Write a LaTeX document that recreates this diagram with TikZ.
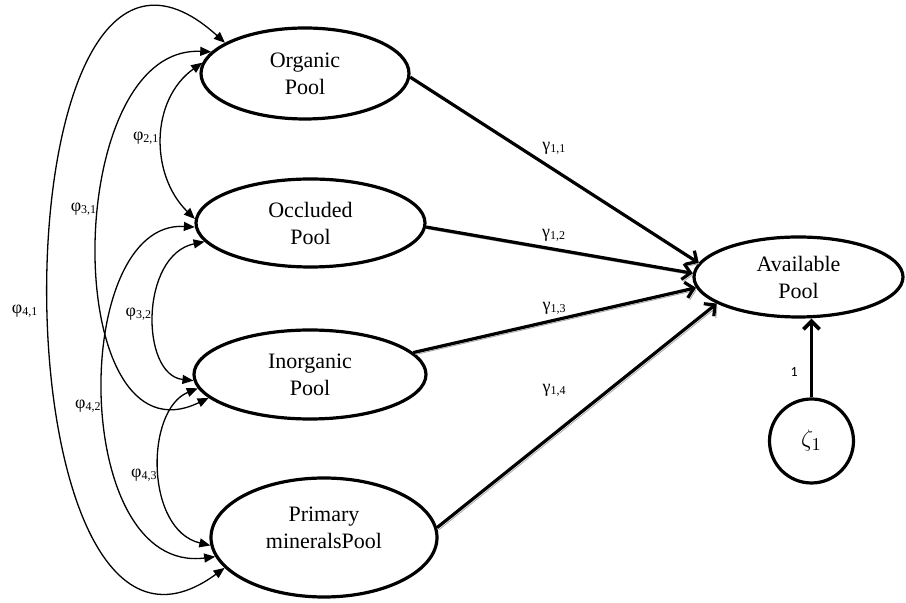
\documentclass[tikz,border=0pt]{standalone}
\usepackage{fontspec}
\setmainfont{Liberation Serif}
\newfontfamily\calibri{Carlito}
\usetikzlibrary{shapes.geometric,arrows.meta}

\tikzset{
pool/.style={draw, ellipse, line width=1.6pt, inner sep=0pt, align=center, font=\fontsize{11}{13.5}\selectfont},
gam/.style={line width=1.6pt, -{Straight Barb[length=4pt,width=8pt]}, preaction={draw=black!35, transform canvas={shift={(1pt,-1pt)}}}},
fix/.style={line width=1.9pt, -{Straight Barb[length=4pt,width=8pt]}},
phi/.style={line width=0.65pt, {Triangle[length=5.5pt,width=4.5pt]}-{Triangle[length=5.5pt,width=4.5pt]}},
coef/.style={font=\fontsize{9}{10}\selectfont, inner sep=1pt}
}

\begin{document}
\begin{tikzpicture}[x=0.5pt,y=-0.5pt]
\useasboundingbox (0,0) rectangle (906,603);

\node [pool, minimum width=104pt, minimum height=45.5pt] (org) at (305,73.5) {Organic\\Pool};
\node [pool, minimum width=114.5pt, minimum height=44pt] (occ) at (310.5,223) {Occluded\\Pool};
\node [pool, minimum width=116pt, minimum height=44.5pt] (ino) at (310,374.5) {Inorganic\\Pool};
\node [pool, minimum width=113pt, minimum height=59.5pt, text depth=10pt] (pri) at (324,537.5) {Primary\\mineralsPool};
\node [pool, minimum width=104.5pt, minimum height=40pt] (ava) at (798.5,277) {Available\\Pool};
\node [draw, circle, line width=1.6pt, minimum size=42pt, inner sep=0pt] (zeta) at (811.5,441) {\fontsize{13}{14}\selectfont$\zeta_1$};

\draw [gam] (org.358) to node [coef, pos=0.5, above=6pt] {γ\textsubscript{1,1}} (ava.172);
\draw [gam] (occ.358) to node [coef, pos=0.48, above=2pt] {γ\textsubscript{1,2}} (ava.178);
\draw [gam] (ino.12) to node [coef, pos=0.5, above=1pt] {γ\textsubscript{1,3}} (ava.186);
\draw [gam] (pri.5) to node [coef, pos=0.42, above=17pt] {γ\textsubscript{1,4}} (ava.198);
\draw [fix] (zeta.north) to node [pos=0.32, left=5pt, inner sep=1pt, font=\calibri\fontsize{7}{8}\selectfont] {1} (zeta.north |- ava.south);

\draw [phi] (org.174) .. controls (150,100) and (150,175) .. (occ.178) node [coef, pos=0.5, left] {φ\textsubscript{2,1}};
\draw [phi] (org.167) .. controls (60,45) and (60,470) .. (ino.193) node [coef, pos=0.43, left] {φ\textsubscript{3,1}};
\draw [phi] (org.159) .. controls (-10,-170) and (-10,740) .. (pri.197) node [coef, pos=0.52, left=4pt] {φ\textsubscript{4,1}};
\draw [phi] (occ.190) .. controls (140,255) and (140,375) .. (ino.183) node [coef, pos=0.5, left] {φ\textsubscript{3,2}};
\draw [phi] (occ.182) .. controls (70,220) and (70,575) .. (pri.190) node [coef, pos=0.52, left] {φ\textsubscript{4,2}};
\draw [phi] (ino.187) .. controls (145,410) and (145,530) .. (pri.184) node [coef, pos=0.53, left] {φ\textsubscript{4,3}};

\end{tikzpicture}
\end{document}
